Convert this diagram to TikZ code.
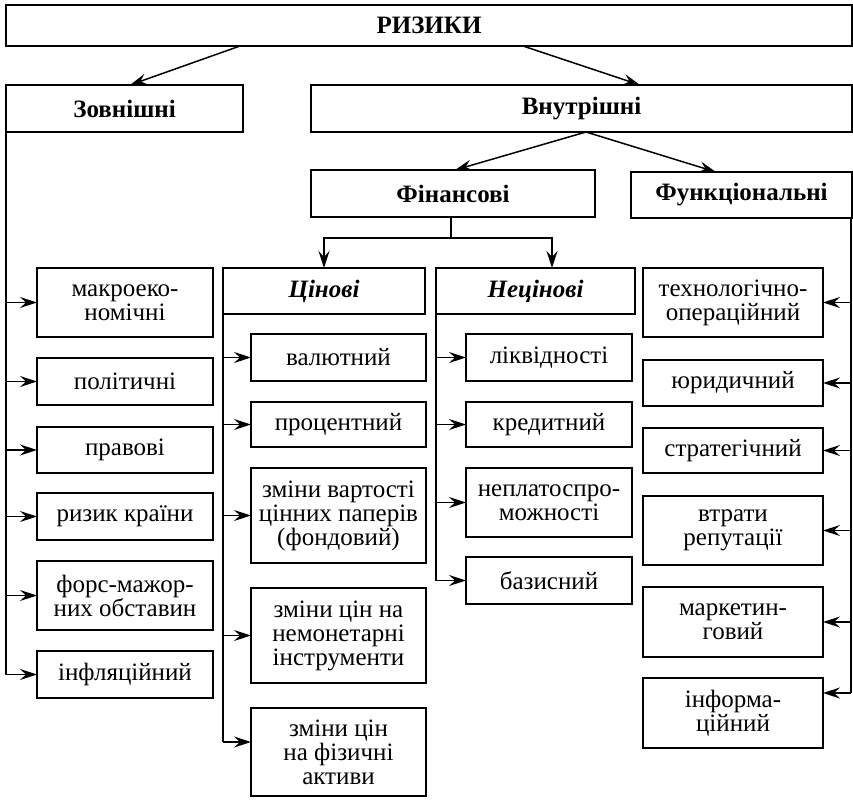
\documentclass[tikz,border=0pt]{standalone}
\usepackage{fontspec}
\setmainfont{Liberation Serif}
\usetikzlibrary{arrows.meta,calc}
\newcommand\mybox[7][]{\node[box,#1,anchor=north west,minimum width={#5pt-#3pt},minimum height={#6pt-#4pt}] (#2) at (#3,#4) {#7};}
\begin{document}
\begin{tikzpicture}[x=1pt,y=-1pt,
  box/.style={draw,line width=1.5pt,inner sep=0pt,outer sep=0pt,align=center,font=\fontsize{25}{24}\selectfont},
  hd/.style={font=\fontsize{25}{24}\selectfont\bfseries},
  hdi/.style={font=\fontsize{25}{24}\selectfont\bfseries\itshape},
  arr/.style={line width=1.5pt,-{Stealth[length=17pt,width=11pt,inset=6pt]}},
  ln/.style={line width=1.5pt}]
\useasboundingbox (0,0) rectangle (853,805);
% top levels
\mybox[hd]{R}{6}{5}{852}{46}{РИЗИКИ}
\mybox[hd]{Z}{6}{85}{243}{132}{Зовнішні}
\mybox[hd]{V}{311}{85}{852}{132}{Внутрішні}
\mybox[hd]{F}{311}{170}{595}{217}{Фінансові}
\mybox[hd]{Fu}{631}{172}{852}{218}{Функціональні}
\mybox[hdi]{C}{223}{268}{425}{314}{Цінові}
\mybox[hdi]{N}{436}{268}{635}{314}{Нецінові}
% left column
\mybox{L1}{37}{268}{213}{337}{макроеко-\\номічні}
\mybox{L2}{37}{358}{213}{405}{політичні}
\mybox{L3}{37}{427}{213}{473}{правові}
\mybox{L4}{37}{493}{213}{540}{ризик країни}
\mybox{L5}{37}{561}{213}{630}{форс-мажор-\\них обставин}
\mybox{L6}{37}{651}{213}{698}{інфляційний}
% price column
\mybox{P1}{251}{334}{426}{381}{валютний}
\mybox{P2}{251}{402}{426}{447}{процентний}
\mybox{P3}{251}{468}{426}{563}{зміни вартості\\цінних паперів\\(фондовий)}
\mybox{P4}{251}{588}{426}{683}{зміни цін на\\немонетарні\\інструменти}
\mybox{P5}{251}{708}{426}{796}{зміни цін\\на фізичні\\активи}
% non-price column
\mybox{Q1}{466}{334}{632}{381}{ліквідності}
\mybox{Q2}{466}{402}{632}{447}{кредитний}
\mybox{Q3}{466}{468}{632}{537}{неплатоспро-\\можності}
\mybox{Q4}{466}{557}{632}{604}{базисний}
% functional column
\mybox{S1}{643}{268}{823}{337}{технологічно-\\операційний}
\mybox{S2}{643}{360}{823}{406}{юридичний}
\mybox{S3}{643}{428}{823}{473}{стратегічний}
\mybox{S4}{643}{496}{823}{565}{втрати\\репутації}
\mybox{S5}{643}{587}{823}{657}{маркетин-\\говий}
\mybox{S6}{643}{678}{823}{748}{інформа-\\ційний}
% top connectors
\draw[arr] ([xshift=234pt]R.south west) -- ([xshift=124pt]Z.north west);
\draw[arr] ([xshift=517pt]R.south west) -- ([xshift=329pt]V.north west);
\coordinate (vs) at ([xshift=275pt]V.south west);
\draw[arr] (vs) -- ([xshift=144pt]F.north west);
\draw[arr] (vs) -- ([xshift=85pt]Fu.north west);
\coordinate (fj) at (451,238);
\draw[ln] (F.south -| fj) -- (fj);
\draw[arr] (fj) -| (C.north);
\draw[arr] (fj) -| ([xshift=116pt]N.north west);
% left trunk
\draw[ln] (Z.south west) -- (Z.south west |- L6.west);
\foreach \b in {L1,L2,L3,L4,L5,L6} \draw[arr] (Z.south west |- \b.west) -- (\b.west);
% price trunk
\coordinate (p5a) at ([yshift=10pt]P5.west);
\draw[ln] (C.south west) -- (C.south west |- p5a);
\foreach \b in {P1,P2,P3,P4} \draw[arr] (C.south west |- \b.west) -- (\b.west);
\draw[arr] (C.south west |- p5a) -- (p5a);
% non-price trunk
\draw[ln] (N.south west) -- (N.south west |- Q4.west);
\foreach \b in {Q1,Q2,Q3,Q4} \draw[arr] (N.south west |- \b.west) -- (\b.west);
% functional trunk
\coordinate (s6a) at ([yshift=20pt]S6.east);
\coordinate (rt) at ([xshift=-1pt]Fu.south east);
\draw[ln] (rt) -- (rt |- s6a);
\foreach \b in {S1,S2,S3,S4,S5} \draw[arr] (rt |- \b.east) -- (\b.east);
\draw[arr] (rt |- s6a) -- (s6a);
\end{tikzpicture}
\end{document}
